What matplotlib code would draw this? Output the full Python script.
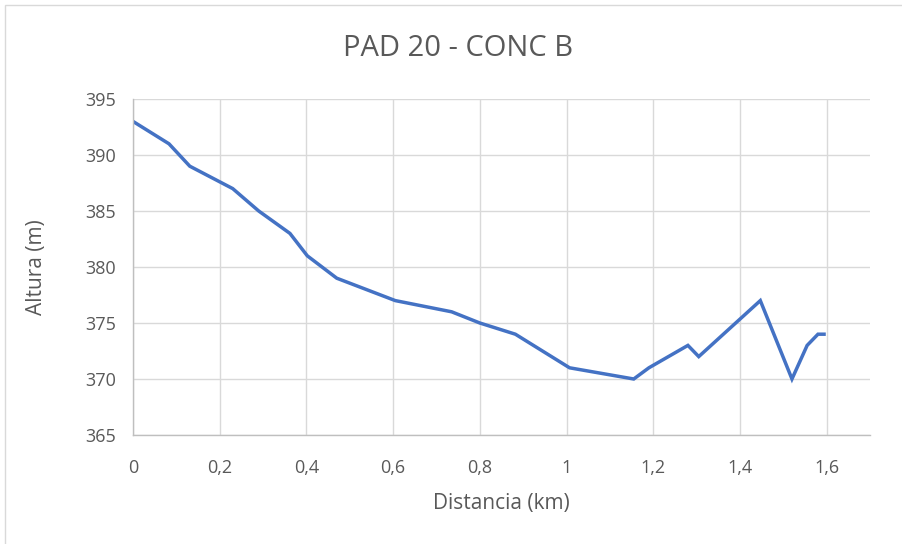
import matplotlib
matplotlib.use("Agg")
import matplotlib.pyplot as plt
from matplotlib.patches import Rectangle

distancia = [0, 0.083, 0.131, 0.23, 0.29, 0.362, 0.402, 0.47, 0.605, 0.735, 0.8,
             0.882, 1.007, 1.155, 1.19, 1.28, 1.305, 1.447, 1.52, 1.555, 1.58, 1.594]
altura = [393, 391, 389, 387, 385, 383, 381, 379, 377, 376, 375,
          374, 371, 370, 371, 373, 372, 377, 370, 373, 374, 374]

xticks = [0, 0.2, 0.4, 0.6, 0.8, 1.0, 1.2, 1.4, 1.6]
xtick_labels = ["0", "0,2", "0,4", "0,6", "0,8", "1", "1,2", "1,4", "1,6"]
yticks = [365, 370, 375, 380, 385, 390, 395]

plt.rcParams['font.family'] = ['Open Sans', 'DejaVu Sans']
txt = '#595959'

fig = plt.figure(figsize=(9.02, 5.44), dpi=100)
fig.patches.append(Rectangle((5/902, -0.1), 1.2, (539/544) + 0.1, transform=fig.transFigure,
                             fill=False, edgecolor='#d9d9d9', linewidth=1))
ax = fig.add_axes([133/902, 109/544, 737/902, 336/544])
ax.plot(distancia, altura, color='#4472C4', linewidth=2.5, solid_joinstyle='miter')
ax.set_xlim(0, 1.7)
ax.set_ylim(365, 395)
ax.set_xticks(xticks)
ax.set_xticklabels(xtick_labels)
ax.set_yticks(yticks)
ax.grid(True, color='#d9d9d9', linewidth=1)
ax.set_axisbelow(True)
for s in ['top', 'right']:
    ax.spines[s].set_visible(False)
for s in ['left', 'bottom']:
    ax.spines[s].set_color('#bfbfbf')
    ax.spines[s].set_linewidth(1)
ax.tick_params(length=0, labelsize=13, colors=txt)
ax.tick_params(axis='x', pad=17)
ax.tick_params(axis='y', pad=12)
ax.set_xlabel('Distancia (km)', fontsize=15, color=txt, labelpad=12)
ax.set_ylabel('Altura (m)', fontsize=15, color=txt, labelpad=28)
fig.text(458/902, 1 - 48/544, 'PAD 20 - CONC B', ha='center', va='center',
         fontsize=21, color=txt)
fig.savefig('out.png', dpi=100)
